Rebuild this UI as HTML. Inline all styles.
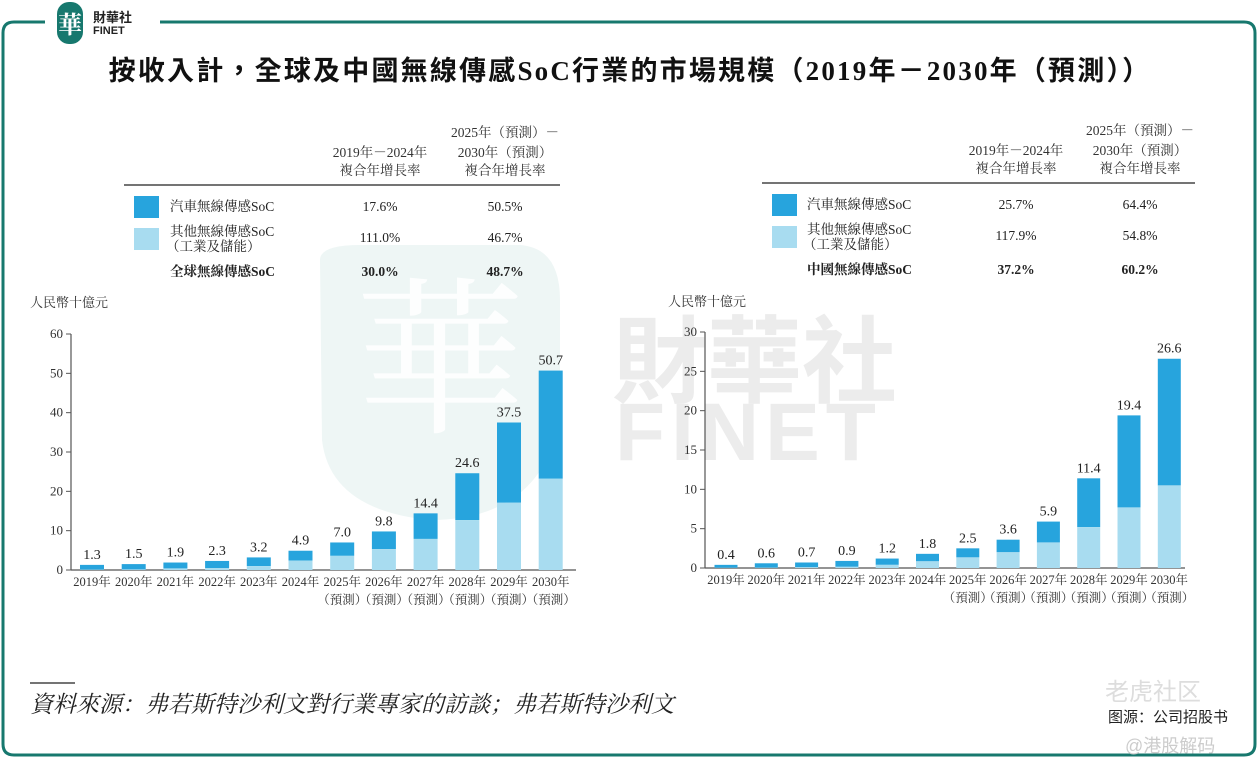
<!DOCTYPE html>
<html><head><meta charset="utf-8"><style>
body{margin:0;background:#fff;}
svg{display:block;font-family:"Liberation Serif","Noto Serif CJK SC",serif;}
</style></head><body>
<svg id="root" width="1258" height="777" viewBox="0 0 1258 777" xmlns="http://www.w3.org/2000/svg">
<path d="M45 22 H14 Q3 22 3 33 V744 Q3 755 14 755 H1244 Q1255 755 1255 744 V33 Q1255 22 1244 22 H160" fill="none" stroke="#17786e" stroke-width="3"/>
<g>
<rect x="57" y="2" width="26" height="42" rx="12" fill="#17786e"/>
<text x="70" y="33" text-anchor="middle" font-size="24" font-weight="bold" fill="#fff">華</text>
<text x="93" y="22" font-size="13" font-weight="bold" fill="#222" font-family="Liberation Sans,Noto Sans CJK TC,sans-serif">財華社</text>
<text x="93" y="34" font-size="11" font-weight="bold" fill="#222" font-family="Liberation Sans,sans-serif">FINET</text>
</g>
<g>
<path d="M320 260 Q320 245 360 245 L520 245 Q560 248 560 300 L560 420 Q540 520 430 520 Q330 510 322 440 Z" fill="#eef6f5"/>
<text x="440" y="420" text-anchor="middle" font-size="170" fill="#fff" opacity="0.9">華</text>
<text x="612" y="395" font-size="95" fill="#ececec" font-family="Liberation Sans,Noto Sans CJK TC,sans-serif" font-weight="bold">財華社</text>
<text x="615" y="460" font-size="82" fill="#ececec" font-family="Liberation Sans,sans-serif" font-weight="bold" letter-spacing="6">FINET</text>
</g>
<text x="630" y="80" text-anchor="middle" font-size="27" font-weight="bold" fill="#111" letter-spacing="2.2" font-family="Liberation Serif,Noto Sans CJK TC,serif">按收入計，全球及中國無線傳感SoC行業的市場規模（2019年－2030年（預測））</text>

<g id="leftTable"></g>
<g id="rightTable"></g>
<g id="leftChart"></g>
<g id="rightChart"></g>

<line x1="30" y1="683" x2="75" y2="683" stroke="#222" stroke-width="1.2"/>
<text x="30" y="712" font-size="23" font-style="italic" fill="#222" font-family="Liberation Serif,Noto Serif CJK SC,serif">資料來源：弗若斯特沙利文對行業專家的訪談；弗若斯特沙利文</text>
<text x="1108" y="722" font-size="15" fill="#222" font-family="Liberation Sans,Noto Sans CJK SC,sans-serif">图源：公司招股书</text>
<text x="1105" y="700" font-size="24" fill="#ddd" font-family="Liberation Sans,Noto Sans CJK SC,sans-serif">老虎社区</text>
<text x="1125" y="752" font-size="18" fill="#ccc" font-family="Liberation Sans,Noto Sans CJK SC,sans-serif">@港股解码</text>
</svg>
<script>
const years=["2019年","2020年","2021年","2022年","2023年","2024年","2025年","2026年","2027年","2028年","2029年","2030年"];
const globalTotal=[1.3,1.5,1.9,2.3,3.2,4.9,7.0,9.8,14.4,24.6,37.5,50.7];
const globalOther=[0.1,0.15,0.4,0.5,1.0,2.4,3.6,5.3,7.9,12.7,17.1,23.2];
const globalTicks=[0,10,20,30,40,50,60];
const chinaTotal=[0.4,0.6,0.7,0.9,1.2,1.8,2.5,3.6,5.9,11.4,19.4,26.6];
const chinaOther=[0.03,0.05,0.1,0.15,0.4,0.85,1.35,2.0,3.25,5.2,7.7,10.5];
const chinaTicks=[0,5,10,15,20,25,30];
const globalRows=[["汽車無線傳感SoC","17.6%","50.5%"],["其他無線傳感SoC","111.0%","46.7%"],["全球無線傳感SoC","30.0%","48.7%"]];
const chinaRows=[["汽車無線傳感SoC","25.7%","64.4%"],["其他無線傳感SoC","117.9%","54.8%"],["中國無線傳感SoC","37.2%","60.2%"]];
const DARK="#27a4dd",LIGHT="#a8dcf0";
const NS="http://www.w3.org/2000/svg";
function mk(p,tag,at,txt){const e=document.createElementNS(NS,tag);for(const k in at)e.setAttribute(k,at[k]);if(txt!==undefined)e.textContent=txt;p.appendChild(e);return e;}
const FS=13.5;
function table(g,rows,o){
  let t;
  t=mk(g,"text",{x:o.c2,y:o.hy-20,"text-anchor":"middle","font-size":FS,fill:"#333"},"2025年（預測）－");
  
  
  mk(g,"text",{x:o.c2,y:o.hy,"text-anchor":"middle","font-size":FS,fill:"#333"},"2030年（預測）");
  mk(g,"text",{x:o.c2,y:o.hy+18,"text-anchor":"middle","font-size":FS,fill:"#333"},"複合年增長率");
  t=mk(g,"text",{x:o.c1,y:o.hy,"text-anchor":"middle","font-size":FS,fill:"#333"},"2019年－2024年");
  
  
  mk(g,"text",{x:o.c1,y:o.hy+18,"text-anchor":"middle","font-size":FS,fill:"#333"},"複合年增長率");
  mk(g,"line",{x1:o.x0,x2:o.x1,y1:o.ly,y2:o.ly,stroke:"#222","stroke-width":1.3});
  const ys=[o.ly+26,o.ly+57,o.ly+91];
  let r=mk(g,"rect",{x:o.sx,y:o.ly+11,width:25,height:22,fill:DARK});
  
  
  r=mk(g,"rect",{x:o.sx,y:o.ly+43,width:25,height:22,fill:LIGHT});
  
  
  rows.forEach((row,i)=>{
    const b=i==2?{"font-weight":"bold"}:{};
    const yy=i==1?ys[i]-6:ys[i];
    const lab=mk(g,"text",Object.assign({x:o.tx,y:yy,"font-size":FS,fill:"#222"},b),row[0]);
    
    
    if(i==1)mk(g,"text",{x:o.tx-4,y:yy+15,"font-size":FS,fill:"#222"},"（工業及儲能）");
    mk(g,"text",Object.assign({x:o.c1,y:ys[i],"text-anchor":"middle","font-size":FS,fill:"#222"},b),row[1]);
    mk(g,"text",Object.assign({x:o.c2,y:ys[i],"text-anchor":"middle","font-size":FS,fill:"#222"},b),row[2]);
  });
}
table(document.getElementById("leftTable"),globalRows,{c1:380,c2:505,hy:157,x0:124,x1:560,ly:185,sx:134,tx:170});
table(document.getElementById("rightTable"),chinaRows,{c1:1016,c2:1140,hy:155,x0:762,x1:1195,ly:183,sx:772,tx:807});

function chart(g,total,other,ticks,o){
  const maxV=ticks[ticks.length-1];
  const y=v=>o.y0-(v/maxV)*(o.y0-o.yTop);
  const x=i=>o.xFirst+i*o.step;
  const u=mk(g,"text",{x:o.ux,y:o.uy,"font-size":13,fill:"#333"},"人民幣十億元");
  
  
  mk(g,"line",{x1:o.ax,x2:o.ax,y1:o.yTop,y2:o.y0,stroke:"#555","stroke-width":1.2});
  mk(g,"line",{x1:o.ax,x2:o.xEnd,y1:o.y0,y2:o.y0,stroke:"#555","stroke-width":1.2});
  ticks.forEach(t=>{
    mk(g,"line",{x1:o.ax-5,x2:o.ax,y1:y(t),y2:y(t),stroke:"#555"});
    const l=mk(g,"text",{x:o.ax-8,y:y(t)+4,"text-anchor":"end","font-size":13,fill:"#333"},t);
    
    
  });
  total.forEach((v,i)=>{
    const cx=x(i),w=o.bw;
    const d=mk(g,"rect",{x:cx-w/2,y:y(v),width:w,height:y(other[i])-y(v),fill:DARK});
    
    
    const l=mk(g,"rect",{x:cx-w/2,y:y(other[i]),width:w,height:o.y0-y(other[i]),fill:LIGHT});
    
    
    const vl=mk(g,"text",{x:cx,y:y(v)-6,"text-anchor":"middle","font-size":14,fill:"#222"},v.toFixed(1));
    
    
    const xl=mk(g,"text",{x:cx,y:o.y0+16,"text-anchor":"middle","font-size":12.5,fill:"#333"},years[i]);
    
    
    if(i>=6)mk(g,"text",{x:cx,y:o.y0+34,"text-anchor":"middle","font-size":12.5,fill:"#333"},"（預測）");
  });
}
chart(document.getElementById("leftChart"),globalTotal,globalOther,globalTicks,{y0:570,yTop:334,xFirst:92,step:41.7,bw:24,ax:71,xEnd:576,ux:30,uy:307});
chart(document.getElementById("rightChart"),chinaTotal,chinaOther,chinaTicks,{y0:568,yTop:332,xFirst:726,step:40.3,bw:23,ax:705,xEnd:1185,ux:668,uy:306});
</script>
</body></html>
